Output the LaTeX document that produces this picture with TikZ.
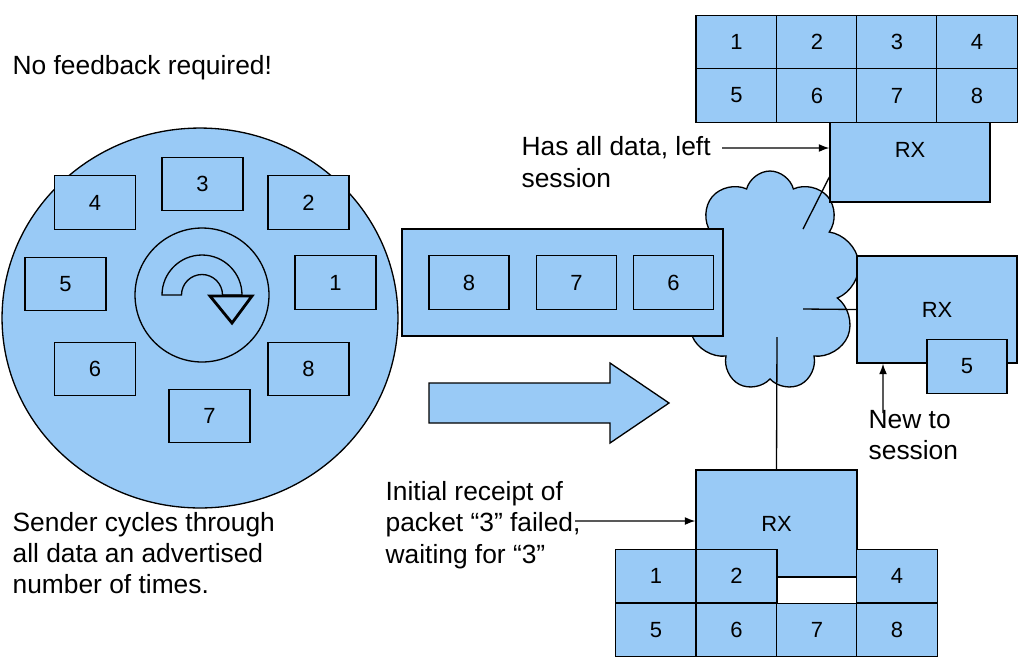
\documentclass[tikz,border=0pt]{standalone}
\usepackage{fontspec}
\setmainfont{Liberation Sans}
\usetikzlibrary{arrows.meta}
\usetikzlibrary{shapes.symbols, shapes.geometric}
\usetikzlibrary{positioning}

\definecolor{pktblue}{RGB}{153,202,246}

\begin{document}
\begin{tikzpicture}[x=0.02cm, y=-0.02cm, line width=0.75pt,
pkt/.style={draw, fill=pktblue, minimum width=1.62cm, minimum height=1.07cm,
inner sep=0pt, font=\fontsize{12.5}{14}\selectfont},
rxbox/.style={draw, fill=pktblue, minimum width=3.2cm, inner sep=0pt,
font=\fontsize{12.5}{14}\selectfont},
note/.style={anchor=west, align=left, inner sep=0pt,
font=\fontsize{15}{17.8}\selectfont},
link/.style={-{Latex[length=6pt, width=4.5pt]}}]
\useasboundingbox (0,0) rectangle (1024,667);

% sender carousel
\node[draw, ellipse, fill=pktblue, minimum width=7.92cm, minimum height=7.6cm,
inner sep=0pt] (wheel) at (200,318){};
\foreach \n/\x/\y in {1/335.5/282.5, 2/308.5/202.5, 3/202.5/184, 4/95/202.5,
5/65.5/284, 6/95/369, 7/209.5/416, 8/308.5/369}{
\node[pkt] (c\n) at (\x,\y){\n};}
\node[draw, circle, minimum size=2.68cm] (hub) at (202,295){};
\draw (162,295) arc[start angle=180, end angle=360, radius=40] -- (222.5,295)
arc[start angle=0, end angle=-180, radius=20.5] -- cycle;
\draw[line width=1.6pt, fill=pktblue, line join=miter] (210,296) -- (252,296) -- (232,323) -- cycle;

% network
\node[cloud, draw, fill=pktblue, cloud puffs=9, aspect=0.8, minimum width=3.6cm,
minimum height=4.4cm, inner sep=0pt] (net) at (770,281){};
\coordinate (n1) at (803,229);
\coordinate (n2) at (803,309);
\coordinate (n3) at (777,337);

% packet stream
\node[draw, fill=pktblue, minimum width=6.42cm, minimum height=2.14cm] (stream) at (562.5,282.5){};
\foreach \n/\x in {8/469, 7/576.5, 6/673.5}{
\node[pkt, minimum width=1.6cm] (s\n) at (\x,282.5){\n};}
\draw[fill=pktblue] (429,383) -- (610,383) -- (610,363) -- (669,403) -- (610,443)
-- (610,423) -- (429,423) -- cycle;

% receivers
\node[rxbox, minimum height=1.6cm, label={[yshift=0.24cm, font=\fontsize{12.5}{14}\selectfont]center:RX}] (rx1) at (910,162){};
\node[rxbox, minimum height=2.14cm] (rx2) at (937,309.5){RX};
\node[rxbox, minimum width=3.22cm, minimum height=2.14cm] (rx3) at (776.5,523.5){RX};
\draw (n1) -- ([yshift=-0.3cm]rx1.west);
\draw (n2) -- (rx2.west);
\draw (n3) -- (rx3.north);
\node[pkt, minimum width=1.6cm] (r5) at (967,366.5){5};

\foreach \n/\x/\y in {1/736.5/42, 2/817/42, 3/897/42, 4/977/42,
5/736.5/95.5, 6/817/95.5, 7/897/95.5, 8/977/95.5}{
\node[pkt] (t\n) at (\x,\y){\n};}
\foreach \n/\x/\y in {1/656/576, 2/736.5/576, 4/897/576,
5/656/630, 6/736.5/630, 7/817/630, 8/897/630}{
\node[pkt] (b\n) at (\x,\y){\n};}

% notes
\node[note] (nofb) at (12,68){No feedback required!};
\node[note] (cycle) at (12,553){Sender cycles through\\all data an advertised\\number of times.};
\node[note] (left) at (521,162){Has all data, left\\session};
\node[note] (fail) at (385,525){Initial receipt of\\packet “3” failed,\\waiting for “3”};
\node[note] (new) at (868,435){New to\\session};
\coordinate (a1) at (722,148);
\coordinate (a2) at (575,521);
\coordinate (a3) at (883,413);
\draw[link] (a1) -- ([yshift=0.28cm]rx1.west);
\draw[link] (a2) -- ([yshift=0.05cm]rx3.west);
\draw[link] (a3) -- ([xshift=-1.08cm]rx2.south);
\end{tikzpicture}
\end{document}
